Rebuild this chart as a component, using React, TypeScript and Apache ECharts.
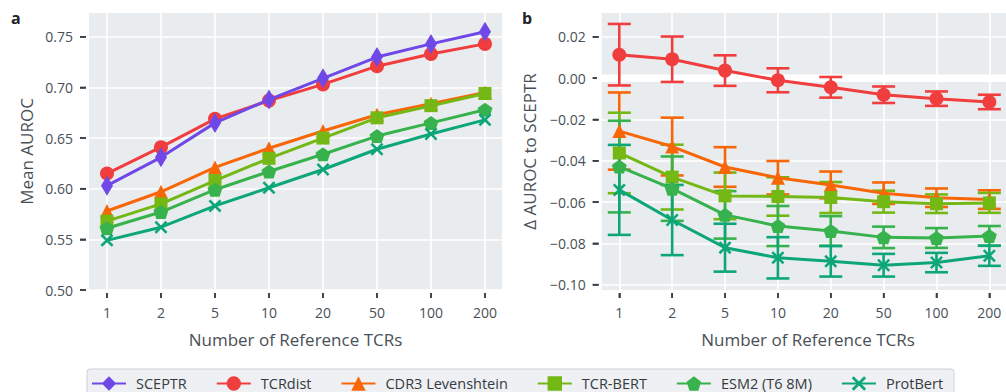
import React, { useEffect, useRef } from "react";
import * as echarts from "echarts";

// ---------- data ----------
const refCounts = ["1", "2", "5", "10", "20", "50", "100", "200"];
const modelNames = ["SCEPTR", "TCRdist", "CDR3 Levenshtein", "TCR-BERT", "ESM2 (T6 8M)", "ProtBert"];
const modelColors = ["#7048e8", "#f03e3e", "#f76707", "#74b816", "#37b24d", "#0ca678"];

// Panel a: mean AUROC
const sceptrAuroc = [0.603, 0.631, 0.665, 0.688, 0.709, 0.730, 0.743, 0.755];
const tcrdistAuroc = [0.615, 0.641, 0.669, 0.687, 0.703, 0.721, 0.733, 0.743];
const cdr3LevAuroc = [0.578, 0.597, 0.621, 0.640, 0.657, 0.673, 0.684, 0.695];
const tcrBertAuroc = [0.568, 0.585, 0.608, 0.630, 0.650, 0.670, 0.682, 0.694];
const esm2Auroc = [0.561, 0.577, 0.599, 0.617, 0.634, 0.652, 0.665, 0.678];
const protBertAuroc = [0.549, 0.562, 0.583, 0.601, 0.619, 0.639, 0.654, 0.668];

// Panel b: delta AUROC to SCEPTR, with error half-widths
const tcrdistDelta = [0.0114, 0.0092, 0.0037, -0.001, -0.0044, -0.008, -0.0099, -0.0115];
const tcrdistErr = [0.0149, 0.011, 0.0074, 0.0058, 0.005, 0.004, 0.0035, 0.0035];
const cdr3LevDelta = [-0.0256, -0.0331, -0.043, -0.0482, -0.0517, -0.0557, -0.0579, -0.0588];
const cdr3LevErr = [0.0187, 0.014, 0.0096, 0.0081, 0.0065, 0.0052, 0.0045, 0.0045];
const tcrBertDelta = [-0.0362, -0.0479, -0.057, -0.0573, -0.0578, -0.0598, -0.0608, -0.0604];
const tcrBertErr = [0.0195, 0.0157, 0.0113, 0.0093, 0.0075, 0.0053, 0.0045, 0.0048];
const esm2Delta = [-0.0428, -0.0535, -0.0662, -0.0716, -0.074, -0.0771, -0.0774, -0.0764];
const esm2Err = [0.0222, 0.0156, 0.0115, 0.0097, 0.0072, 0.0052, 0.0048, 0.0048];
const protBertDelta = [-0.0541, -0.0687, -0.0821, -0.087, -0.0887, -0.0906, -0.0893, -0.086];
const protBertErr = [0.0218, 0.017, 0.0116, 0.01, 0.0074, 0.0055, 0.0047, 0.0049];

const aTicks = [0.5, 0.55, 0.6, 0.65, 0.7, 0.75];
const bTicks = [-0.1, -0.08, -0.06, -0.04, -0.02, 0.0, 0.02];

// ---------- styling ----------
const FONT = "'Open Sans', 'Noto Sans', sans-serif";
const TXT = "#495057";
const TICK = "#3a3f44";
const PENTAGON = "path://M50,0 L97.55,34.55 L79.39,90.45 L20.61,90.45 L2.45,34.55 Z";
const XMARK = "path://M0,14 L14,0 L50,36 L86,0 L100,14 L64,50 L100,86 L86,100 L50,64 L14,100 L0,86 L36,50 Z";
const symbols: any[] = ["diamond", "circle", "triangle", "rect", PENTAGON, XMARK];
const symbolSizes: any[] = [[12, 20], 14, 14, 13, [15, 14], 13];

const GRIDS = [
  { left: 89, top: 13, width: 413, height: 277 },
  { left: 601.7, top: 13, width: 413, height: 277 },
];

const aData = [sceptrAuroc, tcrdistAuroc, cdr3LevAuroc, tcrBertAuroc, esm2Auroc, protBertAuroc];
const bDelta = [null, tcrdistDelta, cdr3LevDelta, tcrBertDelta, esm2Delta, protBertDelta];
const bErr = [null, tcrdistErr, cdr3LevErr, tcrBertErr, esm2Err, protBertErr];

const fmtB = (v: number) => {
  const r = Math.round(v * 100) / 100;
  if (Math.abs(r) < 1e-9) return "0.00";
  return (r < 0 ? "\u2212" : "") + Math.abs(r).toFixed(2);
};

function xAxisFor(gridIndex: number) {
  const idx = refCounts.map((_, i) => i);
  return {
    type: "value",
    gridIndex,
    min: -0.333,
    max: 7.315,
    offset: 3,
    axisLine: { show: false, onZero: false },
    axisTick: { show: true, length: 5, customValues: idx, lineStyle: { color: TICK, width: 1.6 } },
    axisLabel: {
      customValues: idx,
      margin: 12,
      fontSize: 14,
      color: TXT,
      fontFamily: FONT,
      formatter: (v: number) => refCounts[Math.round(v)] ?? "",
    },
    splitLine: { show: true, lineStyle: { color: "#ffffff", width: 1.6 } },
  };
}

function yAxisFor(gridIndex: number, min: number, max: number, ticks: number[], fmt: (v: number) => string) {
  return {
    type: "value",
    gridIndex,
    min,
    max,
    offset: 3,
    axisLine: { show: false, onZero: false },
    axisTick: { show: true, length: 6, customValues: ticks, lineStyle: { color: TICK, width: 1.6 } },
    axisLabel: { customValues: ticks, margin: 13, fontSize: 14, color: TXT, fontFamily: FONT, formatter: fmt },
    splitLine: { show: true, lineStyle: { color: "#ffffff", width: 1.6 } },
  };
}

const baseGraphic: any[] = [
  { type: "text", x: 11, y: 17.5, style: { text: "a", font: `bold 16px ${FONT}`, fill: "#212529", verticalAlign: "middle" } },
  { type: "text", x: 522, y: 17.5, style: { text: "b", font: `bold 16px ${FONT}`, fill: "#212529", verticalAlign: "middle" } },
  { type: "text", x: 295.5, y: 339, style: { text: "Number of Reference TCRs", font: `17px ${FONT}`, fill: TXT, align: "center", verticalAlign: "middle" } },
  { type: "text", x: 808, y: 339, style: { text: "Number of Reference TCRs", font: `17px ${FONT}`, fill: TXT, align: "center", verticalAlign: "middle" } },
  { type: "text", x: 26, y: 151.5, rotation: Math.PI / 2, style: { text: "Mean AUROC", font: `17px ${FONT}`, fill: TXT, align: "center", verticalAlign: "middle" } },
  { type: "text", x: 529, y: 151.5, rotation: Math.PI / 2, style: { text: "\u0394 AUROC to SCEPTR", font: `17px ${FONT}`, fill: TXT, align: "center", verticalAlign: "middle" } },
];

function buildOption() {
  const series: any[] = [];
  modelNames.forEach((name, m) => {
    series.push({
      type: "line",
      name,
      xAxisIndex: 0,
      yAxisIndex: 0,
      z: m === 0 ? 4 : 3,
      data: aData[m].map((v, i) => [i, v]),
      symbol: symbols[m],
      symbolSize: symbolSizes[m],
      showSymbol: true,
      lineStyle: { color: modelColors[m], width: 3 },
      itemStyle: { color: modelColors[m] },
      emphasis: { disabled: true },
      silent: true,
    });
  });
  series.push({
    type: "line",
    name: "zero",
    xAxisIndex: 1,
    yAxisIndex: 1,
    z: 2,
    data: [[-1, 0], [8, 0]],
    symbol: "none",
    lineStyle: { color: "#ffffff", width: 7.5 },
    silent: true,
  });
  modelNames.forEach((name, m) => {
    const d = bDelta[m];
    const e = bErr[m];
    if (!d || !e) return;
    const color = modelColors[m];
    series.push({
      type: "custom",
      name: name + " error",
      xAxisIndex: 1,
      yAxisIndex: 1,
      z: 3,
      silent: true,
      data: d.map((v, i) => [i, v - e[i], v + e[i]]),
      encode: { x: 0, y: [1, 2] },
      renderItem: (params: any, api: any) => {
        const x = api.value(0);
        const top = api.coord([x, api.value(2)]);
        const bot = api.coord([x, api.value(1)]);
        const hw = 11.5;
        const st = { stroke: color, lineWidth: 2.6 };
        return {
          type: "group",
          children: [
            { type: "line", shape: { x1: top[0], y1: top[1], x2: bot[0], y2: bot[1] }, style: st },
            { type: "line", shape: { x1: top[0] - hw, y1: top[1], x2: top[0] + hw, y2: top[1] }, style: st },
            { type: "line", shape: { x1: bot[0] - hw, y1: bot[1], x2: bot[0] + hw, y2: bot[1] }, style: st },
          ],
        };
      },
    });
    series.push({
      type: "line",
      name,
      xAxisIndex: 1,
      yAxisIndex: 1,
      z: 3,
      data: d.map((v, i) => [i, v]),
      symbol: symbols[m],
      symbolSize: symbolSizes[m],
      showSymbol: true,
      lineStyle: { color, width: 3 },
      itemStyle: { color },
      emphasis: { disabled: true },
      silent: true,
    });
  });

  return {
    animation: false,
    textStyle: { fontFamily: FONT },
    grid: GRIDS.map((g) => ({ ...g, show: true, backgroundColor: "#e9ecef", borderWidth: 0 })),
    xAxis: [xAxisFor(0), xAxisFor(1)],
    yAxis: [
      yAxisFor(0, 0.5, 0.7735, aTicks, (v: number) => v.toFixed(2)),
      yAxisFor(1, -0.1026, 0.0316, bTicks, fmtB),
    ],
    legend: {
      data: modelNames,
      left: 87,
      top: 369,
      orient: "horizontal",
      padding: [7, 11, 8, 4],
      itemWidth: 34,
      itemHeight: 18,
      itemGap: 29,
      backgroundColor: "#eef0f3",
      borderColor: "#cdd1d6",
      borderWidth: 1,
      borderRadius: 3,
      selectedMode: false,
      textStyle: { fontSize: 14.5, color: "#343a40", fontFamily: FONT, padding: [0, 0, 0, 5] },
    },
    graphic: baseGraphic,
    series,
  };
}

export default function App() {
  const ref = useRef<HTMLDivElement>(null);
  useEffect(() => {
    if (!ref.current) return;
    const chart = echarts.init(ref.current, undefined, { renderer: "svg" });
    chart.setOption(buildOption() as any);
    // tick marks placed through the axes' own scales
    try {
      const tickEls: any[] = [];
      const tickStyle = { stroke: TICK, lineWidth: 1.6 };
      [aTicks, bTicks].forEach((ticks, gi) => {
        const xr = GRIDS[gi].left - 3;
        ticks.forEach((v) => {
          const y = chart.convertToPixel({ yAxisIndex: gi } as any, v) as any;
          if (typeof y === "number" && isFinite(y)) {
            tickEls.push({ type: "line", silent: true, shape: { x1: xr - 6, y1: y, x2: xr, y2: y }, style: tickStyle });
          }
        });
        const yt = GRIDS[gi].top + GRIDS[gi].height + 3;
        refCounts.forEach((_, i) => {
          const x = chart.convertToPixel({ xAxisIndex: gi } as any, i) as any;
          if (typeof x === "number" && isFinite(x)) {
            tickEls.push({ type: "line", silent: true, shape: { x1: x, y1: yt, x2: x, y2: yt + 5 }, style: tickStyle });
          }
        });
      });
      chart.setOption({ graphic: [...baseGraphic, ...tickEls] } as any);
    } catch (e) {
      // keep chart as is
    }
    return () => chart.dispose();
  }, []);
  return (
    <div
      ref={ref}
      style={{ position: "absolute", left: 0, top: 0, width: 1006, height: 392, background: "#ffffff" }}
    />
  );
}
